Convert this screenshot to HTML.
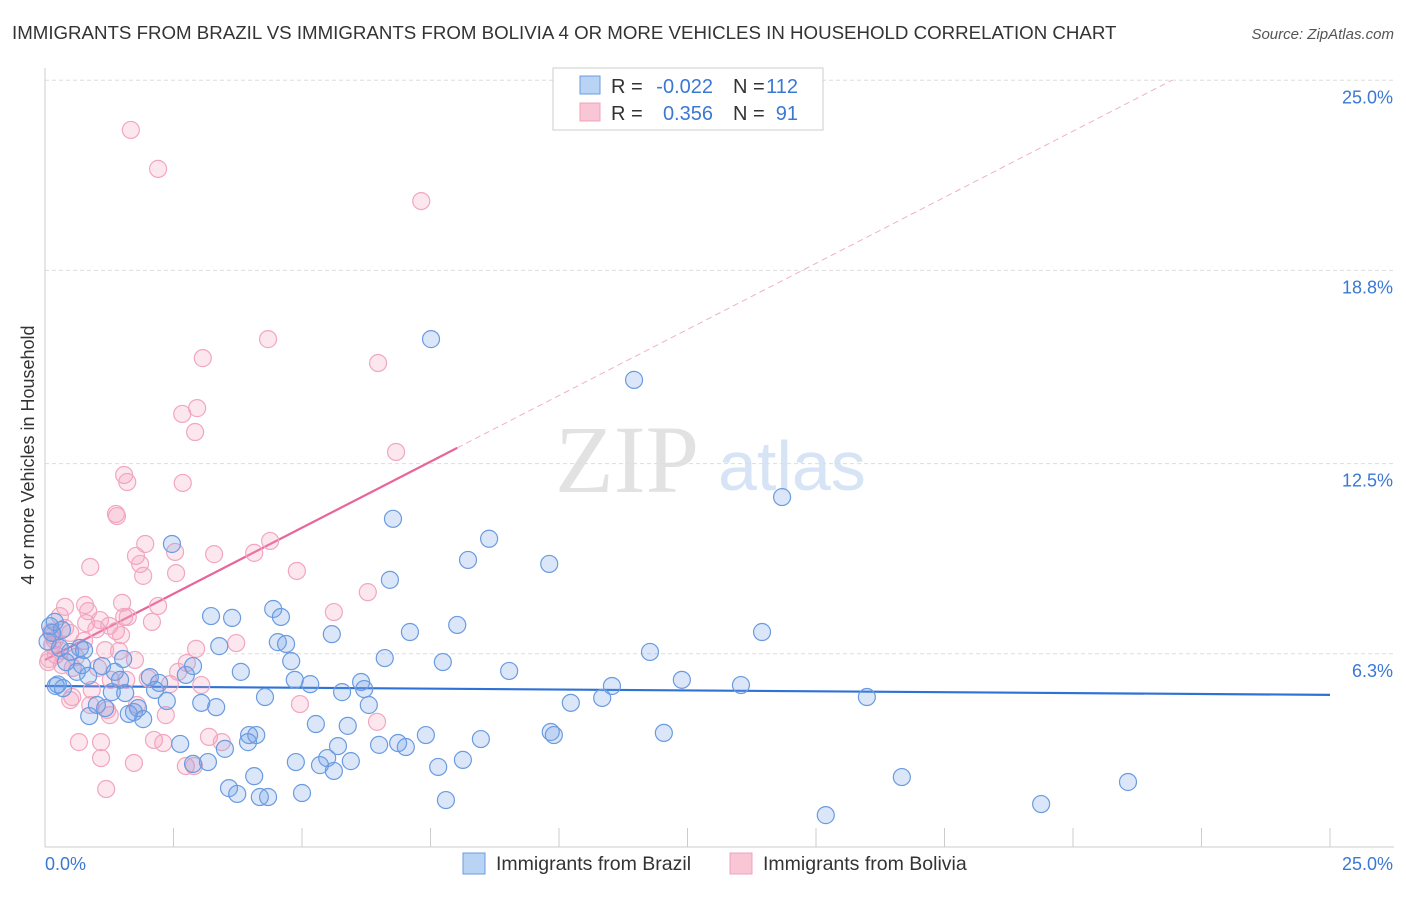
<!DOCTYPE html>
<html><head><meta charset="utf-8"><style>
body{margin:0;background:#fff;font-family:"Liberation Sans",sans-serif;}
svg text{font-family:"Liberation Sans",sans-serif;}
</style></head><body>
<svg id="chart" width="1406" height="892" viewBox="0 0 1406 892" xmlns="http://www.w3.org/2000/svg">
<text x="12" y="39" font-size="18.7" fill="#333">IMMIGRANTS FROM BRAZIL VS IMMIGRANTS FROM BOLIVIA 4 OR MORE VEHICLES IN HOUSEHOLD CORRELATION CHART</text>
<text x="1394" y="39" font-size="15" fill="#555" text-anchor="end" font-style="italic">Source: ZipAtlas.com</text>
<g>
<text x="555" y="492" font-size="96" fill="#e2e2e2" font-family="Liberation Serif" style="font-family:'Liberation Serif',serif">ZIP</text>
<text x="718" y="490" font-size="70" fill="#d6e4f5">atlas</text>
</g>
<g id="grid"></g>
<g id="axes"></g>
<g id="trends"></g>
<g id="points"></g>
<text transform="translate(34,455) rotate(-90)" font-size="18" fill="#333" text-anchor="middle">4 or more Vehicles in Household</text>
<g>
<rect x="553" y="68" width="270" height="62" fill="#fff" stroke="#ccc"/>
<rect x="580" y="76" width="20" height="18" fill="#b9d3f5" stroke="#6a9be0"/>
<rect x="580" y="103" width="20" height="18" fill="#f9c6d6" stroke="#f0a0bc"/>
<text x="611" y="93" font-size="20" fill="#333">R =</text>
<text x="713" y="93" font-size="20" fill="#3a78d4" text-anchor="end">-0.022</text>
<text x="733" y="93" font-size="20" fill="#333">N =</text>
<text x="798" y="93" font-size="20" fill="#3a78d4" text-anchor="end">112</text>
<text x="611" y="120" font-size="20" fill="#333">R =</text>
<text x="713" y="120" font-size="20" fill="#3a78d4" text-anchor="end">0.356</text>
<text x="733" y="120" font-size="20" fill="#333">N =</text>
<text x="798" y="120" font-size="20" fill="#3a78d4" text-anchor="end">91</text>
</g>
<g>
<rect x="463" y="853" width="22" height="21" fill="#b9d3f5" stroke="#6a9be0"/>
<text x="496" y="870" font-size="19.5" fill="#333">Immigrants from Brazil</text>
<rect x="730" y="853" width="22" height="21" fill="#f9c6d6" stroke="#f0a0bc"/>
<text x="763" y="870" font-size="19.5" fill="#333">Immigrants from Bolivia</text>
</g>
</svg>
<script>
const yTicks=[25.0,18.8,12.5,6.3];
const yTickLabels=["25.0%","18.8%","12.5%","6.3%"];
const xTickLabels=["0.0%","25.0%"];
const brazilX=[7.51,11.46,14.34,6.77,8.64,2.47,8.23,9.81,6.71,3.23,3.64,4.44,4.59,8.02,7.10,5.58,13.95,4.53,4.69,3.39,11.77,6.61,7.74,4.79,1.52,2.88,9.03,3.81,12.39,6.15,5.16,4.86,6.21,2.04,2.22,2.74,11.03,13.54,4.28,5.78,3.04,10.23,10.84,15.99,2.37,3.33,6.30,1.81,1.73,1.63,1.91,0.86,5.27,5.89,7.41,9.84,9.90,12.04,8.48,2.63,3.97,4.11,3.95,6.50,6.87,7.02,5.70,3.50,2.88,3.17,5.49,5.35,4.88,5.95,5.62,8.13,7.65,4.07,3.58,3.74,4.18,4.34,5.00,7.80,16.67,21.07,19.38,15.19,0.21,0.35,0.62,0.84,1.11,1.30,1.36,1.01,0.68,0.29,0.49,0.76,0.19,0.14,0.41,0.72,1.56,2.14,1.17,1.46,0.33,0.10,0.05,0.25];
const brazilY=[16.56,15.23,11.41,10.70,10.05,9.88,9.36,9.23,8.71,7.53,7.47,7.76,7.50,7.24,7.01,6.94,7.01,6.68,6.62,6.55,6.36,6.16,6.03,6.06,6.13,5.90,5.74,5.71,5.45,5.38,5.31,5.45,5.15,5.54,5.35,5.61,5.25,5.28,4.89,5.05,4.70,4.70,4.86,4.89,4.76,4.56,4.63,4.53,4.40,4.34,4.17,4.27,4.01,3.95,3.65,3.75,3.65,3.72,3.52,3.36,3.65,3.65,3.42,3.33,3.39,3.26,3.29,3.20,2.71,2.77,2.90,2.67,2.77,2.80,2.48,2.84,2.61,2.31,1.92,1.73,1.63,1.63,1.76,1.53,2.28,2.12,1.40,1.04,5.25,5.18,5.71,5.58,5.90,5.05,5.71,4.63,6.49,6.49,6.36,6.42,7.34,6.98,6.03,5.93,5.02,5.12,4.53,5.45,7.08,7.20,6.70,5.30];
const boliviaX=[1.67,2.20,7.32,4.34,3.07,6.48,2.96,2.67,2.92,6.83,1.54,1.60,2.68,1.38,1.40,1.95,4.38,3.29,2.53,1.77,1.85,4.07,0.88,2.55,1.91,4.90,6.28,1.50,2.20,0.39,0.84,0.29,5.62,0.80,1.07,1.54,2.08,1.25,1.38,0.12,0.49,0.14,3.72,2.94,0.76,1.17,1.48,1.44,0.21,0.06,0.33,0.54,1.75,2.76,2.59,1.03,1.28,1.58,3.04,0.91,0.53,2.43,0.49,0.88,1.21,1.79,1.26,2.35,4.96,6.46,0.66,1.09,2.12,2.30,3.19,3.44,1.09,1.73,2.74,2.90,1.19,0.08,0.19,0.39,0.78,1.61,0.30,0.60,1.00,0.15,2.00];
const boliviaY=[23.38,22.11,21.06,16.56,15.94,15.78,14.31,14.12,13.53,12.88,12.13,11.90,11.87,10.86,10.79,9.88,9.98,9.55,9.62,9.49,9.23,9.59,9.13,8.93,8.84,9.00,8.31,7.96,7.86,7.83,7.69,7.53,7.66,7.30,7.40,7.50,7.34,7.21,7.04,7.01,6.98,6.59,6.65,6.46,6.72,6.42,6.91,6.39,6.26,6.03,5.93,5.84,6.10,6.00,5.71,5.84,5.45,5.45,5.28,5.12,4.89,5.31,4.79,4.63,4.47,4.63,4.30,4.30,4.66,4.08,3.42,3.42,3.49,3.39,3.59,3.42,2.90,2.74,2.64,2.64,1.89,6.13,6.75,7.14,7.89,7.50,6.40,6.20,7.10,6.90,5.50];
const brazilTrend=[5.25,4.96];
const boliviaTrend=[6.10,0.862,8.02];
const NS="http://www.w3.org/2000/svg";
const X0=45,X1=1330,Y0=847,YPER=30.67;
function sx(v){return X0+v*(X1-X0)/25;}
function sy(v){return Y0-v*YPER;}
function mk(tag,attrs,parent){const e=document.createElementNS(NS,tag);for(const k in attrs)e.setAttribute(k,attrs[k]);parent.appendChild(e);return e;}
const grid=document.getElementById('grid'),axes=document.getElementById('axes'),trends=document.getElementById('trends'),pts=document.getElementById('points');
yTicks.forEach((t,i)=>{
 const l=mk('line',{x1:X0,x2:1394,y1:sy(t),y2:sy(t),stroke:'#ddd','stroke-dasharray':'4,3'},grid);
 
 
 const tx=mk('text',{x:1393,y:sy(t)+23,'font-size':18,fill:'#3a78d4','text-anchor':'end'},axes);
 tx.textContent=yTickLabels[i];
 
 
});
let a=mk('line',{x1:X0,x2:X0,y1:68,y2:Y0,stroke:'#ccc'},axes);


a=mk('line',{x1:X0,x2:1394,y1:Y0,y2:Y0,stroke:'#ccc'},axes);


for(let i=0;i<=10;i++){const v=i*2.5;const t=mk('line',{x1:sx(v),x2:sx(v),y1:828,y2:Y0,stroke:'#ccc'},axes);
 
 }
[0,25].forEach((v,i)=>{const t=mk('text',{x:i?1393:45,y:870,'font-size':18,fill:'#3a78d4','text-anchor':i?'end':'start'},axes);t.textContent=xTickLabels[i];
 
 });
function dot(x,y,fill,stroke,name,r){const c=mk('circle',{cx:sx(x),cy:sy(y),r:r,fill:fill,stroke:stroke,'stroke-width':1.2},pts);
 
 }
boliviaX.forEach((x,i)=>dot(x,boliviaY[i],'rgba(243,160,188,0.25)','#f2a6c0','point-bolivia',8.5));
brazilX.forEach((x,i)=>dot(x,brazilY[i],'rgba(110,158,230,0.25)','#6a9be0','point-brazil',8.5));
let tl=mk('line',{x1:sx(0),y1:sy(brazilTrend[0]),x2:sx(25),y2:sy(brazilTrend[1]),stroke:'#2f72d6','stroke-width':2.2},trends);


const xe=boliviaTrend[2],xEnd=(25-boliviaTrend[0])/boliviaTrend[1];
tl=mk('line',{x1:sx(0),y1:sy(boliviaTrend[0]),x2:sx(xe),y2:sy(boliviaTrend[0]+boliviaTrend[1]*xe),stroke:'#e8659a','stroke-width':2.2},trends);


tl=mk('line',{x1:sx(xe),y1:sy(boliviaTrend[0]+boliviaTrend[1]*xe),x2:sx(xEnd),y2:sy(25),stroke:'#f0b0c8','stroke-width':1,'stroke-dasharray':'6,4'},trends);


</script>
</body></html>
